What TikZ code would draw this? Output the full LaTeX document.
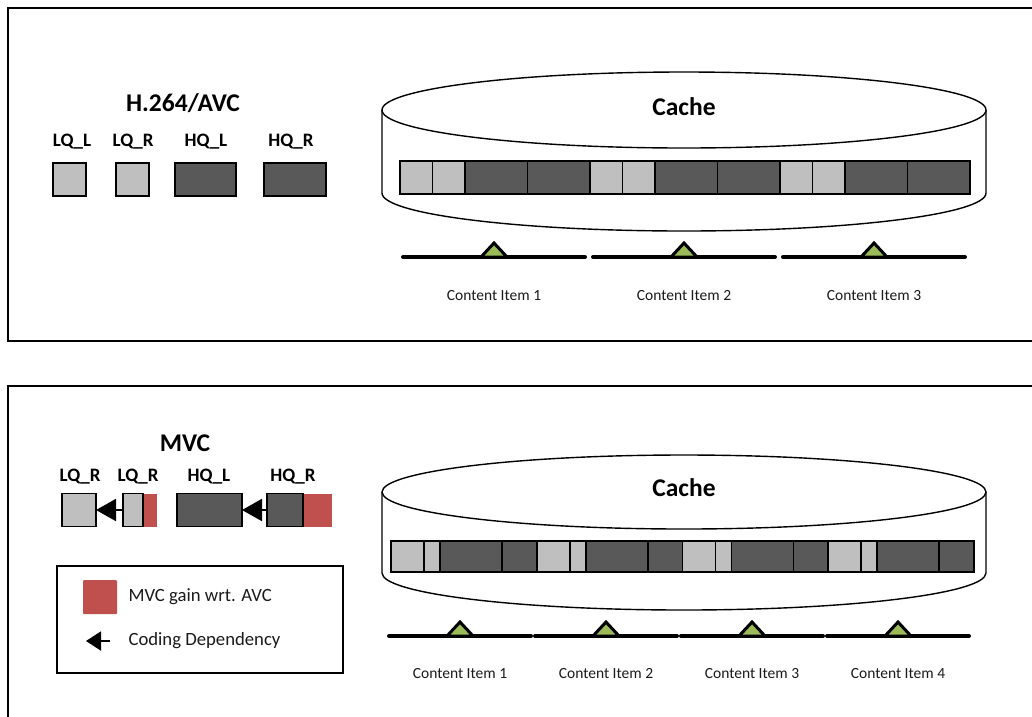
\documentclass[tikz,border=0pt]{standalone}
\usepackage{fontspec}
\setmainfont{Carlito}
\usetikzlibrary{arrows.meta,positioning}

\begin{document}
\begin{tikzpicture}[x=1pt, y=-1pt, >={Triangle[length=20pt,width=22pt]},
  frame/.style={draw=black, line width=1.4pt},
  lqcell/.style={draw=black, line width=1.6pt, fill=light, inner sep=0pt, outer sep=0pt, minimum height=33pt},
  hqcell/.style={lqcell, fill=dark},
  gaincell/.style={fill=gain, inner sep=0pt, outer sep=0pt, minimum height=33pt},
  title/.style={font=\bfseries\fontsize{25.5}{28}\selectfont},
  tag/.style={font=\bfseries\fontsize{19}{22}\selectfont},
  itemtag/.style={font=\fontsize{15.5}{18}\selectfont, text=ink},
  legendtag/.style={anchor=west, font=\fontsize{18.7}{21}\selectfont, text=ink},
  track/.style={line width=4pt, line cap=round},
  marker/.style={fill=marker, draw=black, line width=3pt, line join=miter}]
  \definecolor{ink}{HTML}{1A1A1A}
  \definecolor{light}{HTML}{BFBFBF}
  \definecolor{dark}{HTML}{595959}
  \definecolor{gain}{HTML}{C0504D}
  \definecolor{marker}{HTML}{9BBB59}
  \useasboundingbox (0,0) rectangle (1032,716);
  \fill[white] (0,0) rectangle (1032,716);

  % H.264/AVC panel
  \draw[frame] (8,8) rectangle (1045,341);
  \node[title] at (183,103) {H.264/AVC};
  \node[tag] at (72,142) {LQ\_L};
  \node[tag] at (133,142) {LQ\_R};
  \node[tag] at (206,142) {HQ\_L};
  \node[tag] at (291,142) {HQ\_R};
  \node[lqcell, minimum width=33pt] (avclql) at (69.5,179.5) {};
  \node[lqcell, minimum width=33pt] (avclqr) at (132.5,179.5) {};
  \node[hqcell, minimum width=61pt] (avchql) at (205.5,179.5) {};
  \node[hqcell, minimum width=62pt] (avchqr) at (295,179.5) {};

  \draw[line width=1.4pt, fill=white] (382,110) -- (382,193)
    arc[start angle=180, end angle=0, x radius=302, y radius=38] -- (986,110);
  \draw[line width=1.4pt, fill=white] (684,110) ellipse[x radius=302, y radius=38];
  \node[title] at (684,107) {Cache};
  \foreach \i in {0,1,2} {
    \pgfmathsetmacro{\xo}{400+190*\i}
    \draw[lqcell] (\xo,161) rectangle ++(32.5,33);
    \draw[lqcell] (\xo+32.5,161) rectangle ++(32.5,33);
    \draw[hqcell] (\xo+65,161) rectangle ++(62.5,33);
    \draw[hqcell] (\xo+127.5,161) rectangle ++(62.5,33);
    \pgfmathsetmacro{\xc}{494+190*\i}
    \draw[track] (\xc-91,257) -- (\xc+91,257);
    \draw[marker] (\xc-13,257) -- (\xc,243) -- (\xc+13,257) -- cycle;
    \pgfmathtruncatemacro{\n}{\i+1}
    \node[itemtag] at (\xc,296) {Content Item \n};
  }

  % MVC panel
  \draw[frame] (8,386) rectangle (1045,730);
  \node[title] at (185,443) {MVC};
  \node[tag] at (80,477) {LQ\_R};
  \node[tag] at (138,477) {LQ\_R};
  \node[tag] at (209,477) {HQ\_L};
  \node[tag] at (293,477) {HQ\_R};
  \node[gaincell, minimum width=14pt] at (150,510) {};
  \node[gaincell, minimum width=29pt] at (317.5,510) {};
  \node[lqcell, minimum width=34pt] (mvclqr) at (79,510) {};
  \node[lqcell, minimum width=20pt] (mvclqrdep) at (133,510) {};
  \node[hqcell, minimum width=65pt] (mvchql) at (209.5,510) {};
  \node[hqcell, minimum width=36pt] (mvchqr) at (285,510) {};
  \draw[->, line width=2pt] (mvclqrdep.west) -- (mvclqr.east);
  \draw[->, line width=2pt] (mvchqr.west) -- (mvchql.east);

  \draw[line width=1.4pt, fill=white] (382,492) -- (382,573)
    arc[start angle=180, end angle=0, x radius=302, y radius=37] -- (986,492);
  \draw[line width=1.4pt, fill=white] (684,492) ellipse[x radius=302, y radius=37];
  \node[title] at (684,488) {Cache};
  \foreach \i in {0,1,2,3} {
    \pgfmathsetmacro{\xo}{391+145.75*\i}
    \draw[lqcell] (\xo,541) rectangle ++(33,31);
    \draw[lqcell] (\xo+33,541) rectangle ++(16,31);
    \draw[hqcell] (\xo+49,541) rectangle ++(62,31);
    \draw[hqcell] (\xo+111,541) rectangle ++(34.75,31);
    \pgfmathsetmacro{\xc}{460+146*\i}
    \draw[track] (\xc-71,636) -- (\xc+71,636);
    \draw[marker] (\xc-13,636) -- (\xc,622) -- (\xc+13,636) -- cycle;
    \pgfmathtruncatemacro{\n}{\i+1}
    \node[itemtag] at (\xc,674) {Content Item \n};
  }

  % legend
  \draw[frame] (57,566) rectangle (343,673);
  \node[gaincell, minimum width=34pt, minimum height=34pt, rounded corners=1pt] (gainkey) at (100,597) {};
  \node[legendtag] (gaintext) at (125,597) {MVC gain wrt. AVC};
  \coordinate (depfrom) at (110,641);
  \coordinate (depto) at (86,641);
  \draw[-{Triangle[length=15pt,width=19pt]}, line width=2pt] (depfrom) -- (depto);
  \node[legendtag] (deptext) at (125,641) {Coding Dependency};
\end{tikzpicture}
\end{document}
